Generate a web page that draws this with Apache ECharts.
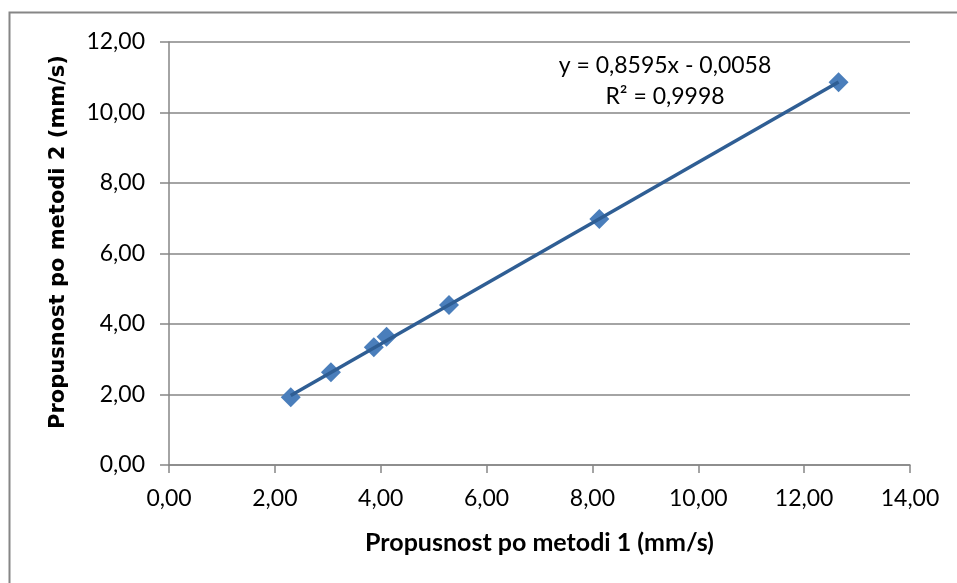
<!DOCTYPE html>
<html><head><meta charset="utf-8">
<script src="https://cdn.jsdelivr.net/npm/echarts@6/dist/echarts.min.js"></script>
<style>html,body{margin:0;padding:0;background:#fff}#c{width:957px;height:583px}</style>
</head><body><div id="c"></div>
<script>
const xValues = [2.30, 3.06, 3.87, 4.11, 5.29, 8.13, 12.65];
const yValues = [1.92, 2.63, 3.34, 3.64, 4.54, 6.98, 10.86];
const slope = 0.8595;
const intercept = -0.0058;
const equationText = 'y = 0,8595x - 0,0058';
const r2Text = 'R² = 0,9998';
const xTitle = 'Propusnost po metodi 1 (mm/s)';
const yTitle = 'Propusnost po metodi 2 (mm/s)';

const pts = xValues.map((x, i) => [x, yValues[i]]);
const xMin = Math.min(...xValues), xMax = Math.max(...xValues);
const trend = [[xMin, slope * xMin + intercept], [xMax, slope * xMax + intercept]];
const fmt = v => v.toFixed(2).replace('.', ',');
const FONT = 'Lato';

const chart = echarts.init(document.getElementById('c'));
chart.setOption({
  animation: false,
  textStyle: { fontFamily: FONT },
  grid: { left: 169, right: 47, top: 42, bottom: 118 },
  xAxis: {
    type: 'value', min: 0, max: 14, interval: 2,
    name: xTitle, nameLocation: 'middle', nameGap: 65,
    nameTextStyle: { fontFamily: FONT, fontSize: 25, fontWeight: 'bold', color: '#000' },
    axisLine: { lineStyle: { color: '#868686', width: 1.5 } },
    axisTick: { show: true, length: 8, lineStyle: { color: '#868686', width: 1.5 } },
    axisLabel: { formatter: fmt, fontSize: 23, color: '#000', margin: 22, fontFamily: FONT },
    splitLine: { show: false }
  },
  yAxis: {
    type: 'value', min: 0, max: 12, interval: 2,
    axisLine: { show: true, lineStyle: { color: '#868686', width: 1.5 } },
    axisTick: { show: true, length: 9, lineStyle: { color: '#868686', width: 1.5 } },
    axisLabel: { formatter: fmt, fontSize: 23, color: '#000', margin: 24, fontFamily: FONT },
    splitLine: { show: true, lineStyle: { color: '#868686', width: 1.5 } }
  },
  series: [
    {
      type: 'scatter', data: pts, symbol: 'diamond', symbolSize: 20,
      itemStyle: { color: '#4A7EBB', opacity: 1 }, z: 2
    },
    {
      type: 'line', data: trend, symbol: 'none', z: 3,
      lineStyle: { color: '#2F5E94', width: 3.5 }
    }
  ],
  graphic: [
    { type: 'rect', shape: { x: 9.5, y: 12.5, width: 960, height: 600 },
      style: { fill: 'none', stroke: '#868686', lineWidth: 2 }, silent: true },
    { type: 'text', x: 59, y: 242, rotation: Math.PI / 2,
      style: { x: 0, y: 0, text: yTitle, textAlign: 'center', textVerticalAlign: 'middle',
      font: 'bold 21px "DejaVu Sans"', fill: '#000' } },
    { type: 'text', style: { x: 665, y: 66, text: equationText, textAlign: 'center', textVerticalAlign: 'middle',
      font: '23px ' + FONT, fill: '#000' } },
    { type: 'text', style: { x: 665, y: 97, text: r2Text, textAlign: 'center', textVerticalAlign: 'middle',
      font: '23px ' + FONT, fill: '#000' } }
  ]
});
</script></body></html>
